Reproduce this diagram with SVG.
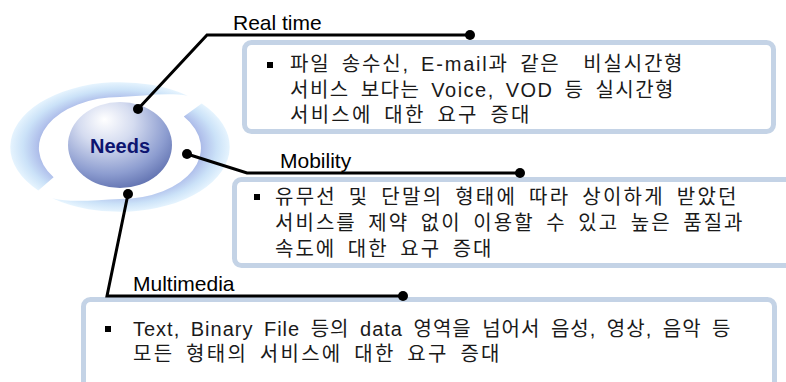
<svg xmlns="http://www.w3.org/2000/svg" width="786" height="382" viewBox="0 0 786 382">
<defs>
<radialGradient id="ringGrad" gradientUnits="userSpaceOnUse" cx="120" cy="147" r="110" gradientTransform="translate(120 147) scale(1 0.59) translate(-120 -147)">
<stop offset="0.68" stop-color="#9aa9dd"/>
<stop offset="0.76" stop-color="#b2c2ec"/>
<stop offset="0.88" stop-color="#cbe2f8"/>
<stop offset="1" stop-color="#e6f4fe"/>
</radialGradient>
<radialGradient id="sphereGrad" cx="0.4" cy="0.3" r="0.75" fx="0.35" fy="0.2">
<stop offset="0" stop-color="#ffffff"/>
<stop offset="0.35" stop-color="#d5dcf0"/>
<stop offset="0.75" stop-color="#8d9dd0"/>
<stop offset="1" stop-color="#5e6fae"/>
</radialGradient>
<style>
.box{fill:#ffffff;stroke:#c4d3e6;stroke-width:5}
.label{font-family:"Liberation Sans",Arial,sans-serif;font-size:21px;fill:#000000}
.body{font-family:"Liberation Sans","Noto Sans CJK KR",sans-serif;font-size:20px;letter-spacing:0.5px;word-spacing:4px;fill:#1a1a1a}
.bullet{fill:#000000}
.conn{fill:none;stroke:#000000;stroke-width:3;stroke-linejoin:miter}
.dot{fill:#000000}
.needs{font-family:"Liberation Sans",Arial,sans-serif;font-size:20px;font-weight:bold;fill:#0d1470}
</style>
</defs>
<rect width="786" height="382" fill="#ffffff"/>

<g id="needs">
<path d="M 38.3 190.5 A 110 65 0 0 1 187.7 95.8 C 168 92 142 96 120 97 A 81 51 0 0 0 53.6 177.3 Z" fill="url(#ringGrad)"/>
<path d="M 201.7 103.5 A 110 65 0 0 1 52.3 198.2 C 70 203 95 200 120 199 A 81 51 0 0 0 183.8 116.6 Z" fill="url(#ringGrad)"/>
<ellipse cx="120" cy="145" rx="52" ry="43" fill="url(#sphereGrad)"/>
<text class="needs" x="120" y="153" text-anchor="middle">Needs</text>
</g>

<g id="realtime">
<rect class="box" x="244.5" y="42.5" width="529" height="89" rx="7"/>
<text class="label" x="233" y="30">Real time</text>
<rect class="bullet" x="267" y="62" width="6" height="6"/>
<text class="body" xml:space="preserve" x="290" y="71" textLength="393" lengthAdjust="spacing">파일 송수신, E-mail과 같은  비실시간형</text>
<text class="body" x="290" y="97" textLength="384" lengthAdjust="spacing">서비스 보다는 Voice, VOD 등 실시간형</text>
<text class="body" x="290" y="122" textLength="240" lengthAdjust="spacing">서비스에 대한 요구 증대</text>
</g>

<g id="mobility">
<rect class="box" x="234.5" y="179.5" width="570" height="86" rx="7"/>
<text class="label" x="280" y="168">Mobility</text>
<rect class="bullet" x="254" y="194" width="6" height="6"/>
<text class="body" x="275" y="204" textLength="462" lengthAdjust="spacing">유무선 및 단말의 형태에 따라 상이하게 받았던</text>
<text class="body" x="275" y="230" textLength="468" lengthAdjust="spacing">서비스를 제약 없이 이용할 수 있고 높은 품질과</text>
<text class="body" x="275" y="256" textLength="217" lengthAdjust="spacing">속도에 대한 요구 증대</text>
</g>

<g id="multimedia">
<rect class="box" x="83.5" y="299.5" width="691" height="110" rx="7"/>
<text class="label" x="133" y="291">Multimedia</text>
<rect class="bullet" x="105" y="326" width="6" height="6"/>
<text class="body" x="133" y="336" textLength="598" lengthAdjust="spacing">Text, Binary File 등의 data 영역을 넘어서 음성, 영상, 음악 등</text>
<text class="body" x="133" y="361" textLength="367" lengthAdjust="spacing">모든 형태의 서비스에 대한 요구 증대</text>
</g>

<g id="connectors">
<polyline class="conn" points="138,109 207,35 470,35"/>
<circle class="dot" cx="138" cy="109" r="5"/>
<circle class="dot" cx="470" cy="35" r="5"/>
<polyline class="conn" points="187,154 247,173 520,173"/>
<circle class="dot" cx="187" cy="154" r="5"/>
<circle class="dot" cx="520" cy="173" r="5"/>
<polyline class="conn" points="128,194 107,296 403,296"/>
<circle class="dot" cx="128" cy="194" r="5"/>
<circle class="dot" cx="403" cy="296" r="5"/>
</g>
</svg>
